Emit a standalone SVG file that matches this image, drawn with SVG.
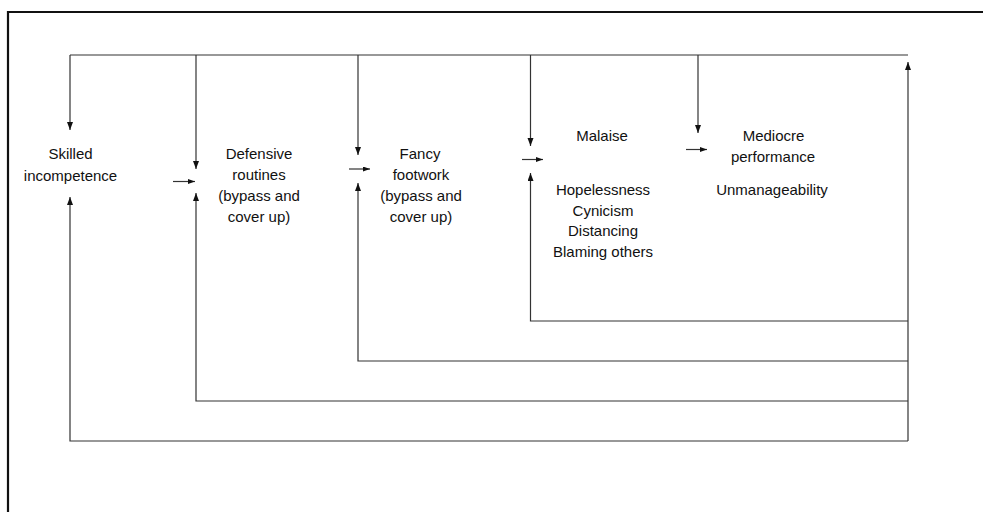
<svg xmlns="http://www.w3.org/2000/svg" width="983" height="512" viewBox="0 0 983 512">
<style>
.t{font-family:"Liberation Sans",Arial,sans-serif;font-size:15px;fill:#111;text-anchor:middle}
.c{fill:none;stroke:#333;stroke-width:1.2}
.frame{fill:none;stroke:#111;stroke-width:2.2}
</style>
<defs>
<marker id="ah" markerUnits="userSpaceOnUse" markerWidth="10" markerHeight="8" refX="8" refY="3" orient="auto">
<path d="M0,0 L8,3 L0,6 z" fill="#111"/>
</marker>
<marker id="as" markerUnits="userSpaceOnUse" markerWidth="10" markerHeight="8" refX="7" refY="2.5" orient="auto">
<path d="M0,0 L7,2.5 L0,5 z" fill="#111"/>
</marker>
</defs>
<rect width="983" height="512" fill="#fff"/>
<path class="frame" d="M8,512 V12 H983"/>
<g id="connectors">
<path class="c" d="M70,55 H908"/>
<path class="c" d="M70,55 V130" marker-end="url(#ah)"/>
<path class="c" d="M196,55 V169" marker-end="url(#ah)"/>
<path class="c" d="M358,55 V155" marker-end="url(#ah)"/>
<path class="c" d="M530.5,55 V146" marker-end="url(#ah)"/>
<path class="c" d="M698,55 V133" marker-end="url(#ah)"/>
<path class="c" d="M908,441 V62" marker-end="url(#ah)"/>
<path class="c" d="M908,321 H530.5 V173" marker-end="url(#ah)"/>
<path class="c" d="M908,361 H358 V183" marker-end="url(#ah)"/>
<path class="c" d="M908,401 H196 V193" marker-end="url(#ah)"/>
<path class="c" d="M908,441 H70 V197" marker-end="url(#ah)"/>
<path class="c" d="M173,181.5 H195" marker-end="url(#as)"/>
<path class="c" d="M349,169 H370" marker-end="url(#as)"/>
<path class="c" d="M522,159.5 H543" marker-end="url(#as)"/>
<path class="c" d="M686,149.5 H707" marker-end="url(#as)"/>
</g>
<g id="skilled">
<text class="t" x="70.5" y="159">Skilled</text>
<text class="t" x="70.5" y="181">incompetence</text>
</g>
<g id="defensive">
<text class="t" x="259" y="159">Defensive</text>
<text class="t" x="259" y="180">routines</text>
<text class="t" x="259" y="201">(bypass and</text>
<text class="t" x="259" y="222">cover up)</text>
</g>
<g id="fancy">
<text class="t" x="420" y="159">Fancy</text>
<text class="t" x="421" y="180">footwork</text>
<text class="t" x="421" y="201">(bypass and</text>
<text class="t" x="421" y="222">cover up)</text>
</g>
<g id="malaise">
<text class="t" x="602" y="140.5">Malaise</text>
<text class="t" x="603" y="195">Hopelessness</text>
<text class="t" x="603" y="215.5">Cynicism</text>
<text class="t" x="603" y="236">Distancing</text>
<text class="t" x="603" y="256.5">Blaming others</text>
</g>
<g id="mediocre">
<text class="t" x="773.5" y="140.5">Mediocre</text>
<text class="t" x="773" y="161.5">performance</text>
<text class="t" x="772" y="195">Unmanageability</text>
</g>
</svg>
